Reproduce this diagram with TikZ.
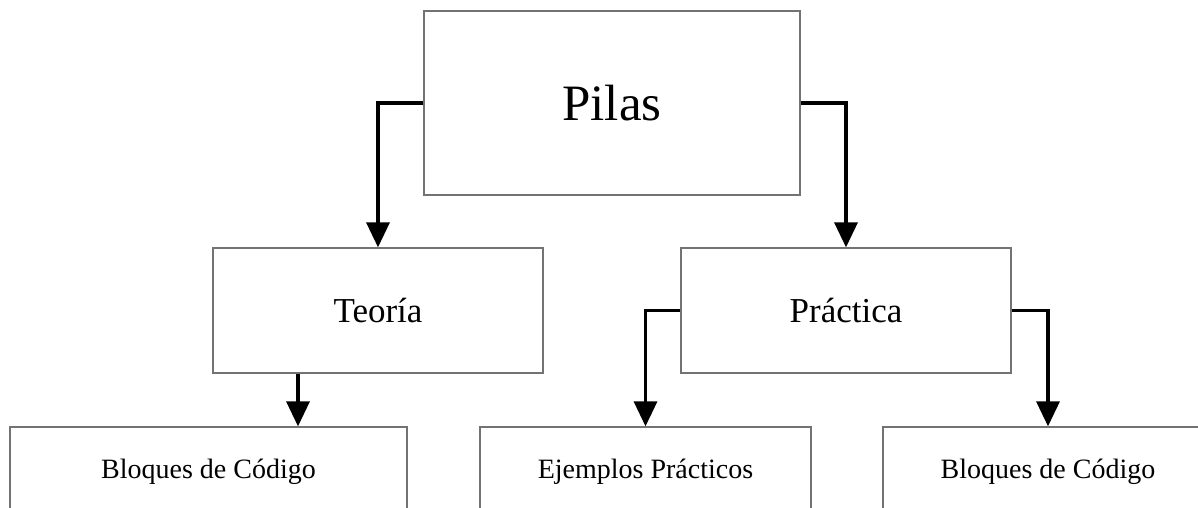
\documentclass[tikz,border=0pt]{standalone}
\usepackage{xcolor}
\usepackage{fontspec}
\setmainfont{Liberation Serif}
\usepackage{tikz}
\usetikzlibrary{arrows.meta, calc}
\definecolor{bordegris}{RGB}{115, 115, 115}

\tikzset{
    caja/.style={draw=bordegris, line width=1.3pt, fill=white, inner sep=0pt},
    flecha/.style={-{Triangle[length=25pt, width=23pt]}, line width=3.4pt, black},
}

\begin{document}
\begin{tikzpicture}[x=1pt, y=-1pt]
        % marco de la hoja
        \useasboundingbox (0,0) rectangle (1198,508);
        \fill[white] (0,0) rectangle (1198,508);
        \clip (0,0) rectangle (1198,508);

        % tema principal
        \node[caja, minimum width=376pt, minimum height=184pt, font=\fontsize{51}{60}\selectfont] (pilas) at (612,103) {Pilas};

        % segundo nivel
        \node[caja, minimum width=330pt, minimum height=125pt, font=\fontsize{35}{42}\selectfont] (teoria) at (378,310.5) {Teoría};
        \node[caja, minimum width=330pt, minimum height=125pt, font=\fontsize{35}{42}\selectfont] (practica) at (846,310.5) {Práctica};

        % tercer nivel (cortado por abajo)
        \foreach \n/\x/\w/\t in {bloquesA/208.5/397pt/Bloques de Código, ejemplos/645.5/331pt/Ejemplos Prácticos}
            \node[caja, minimum width=\w, minimum height=89pt, font=\fontsize{28}{34}\selectfont] (\n) at (\x,471.5) {\t};
        % la última sigue fuera del borde derecho
        \node[caja, minimum width=400pt, minimum height=89pt,
              label={[xshift=-35pt, font=\fontsize{28}{34}\selectfont]center:Bloques de Código}] (bloquesB) at (1083,471.5) {};

        % flechas
        \draw[flecha] (pilas.west) -| (teoria.north);
        \draw[flecha] (pilas.east) -| (practica.north);
        \draw[flecha] ([xshift=-80pt]teoria.south) -- ([xshift=-80pt]teoria.south |- bloquesA.north);
        \draw[flecha] (practica.west) -| (ejemplos.north);
        \draw[flecha] (practica.east) -| ([xshift=-35pt]bloquesB.north);
    \end{tikzpicture}
\end{document}
